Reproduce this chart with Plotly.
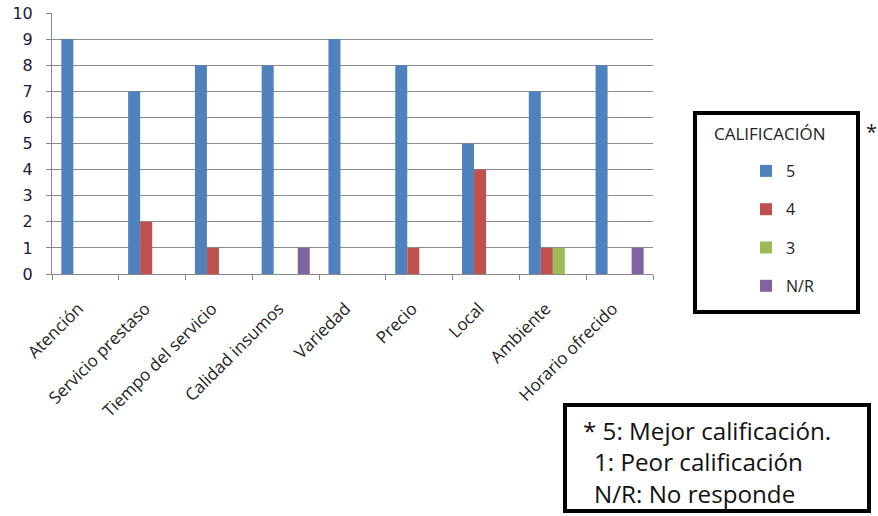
import plotly.graph_objects as go

categories = ["Atención", "Servicio prestaso", "Tiempo del servicio", "Calidad insumos",
              "Variedad", "Precio", "Local", "Ambiente", "Horario ofrecido"]
series_names = ["5", "4", "3", "N/R"]
vals_5 = [9, 7, 8, 8, 9, 8, 5, 7, 8]
vals_4 = [0, 2, 1, 0, 0, 1, 4, 1, 0]
vals_3 = [0, 0, 0, 0, 0, 0, 0, 1, 0]
vals_nr = [0, 0, 0, 1, 0, 0, 0, 0, 1]
colors = ["#4F81BD", "#C0504D", "#9BBB59", "#8064A2"]

W, H = 878, 516
L, R, T, B = 52, 653, 13, 274


def px(x):
    return (x - L) / (R - L)


def py(y):
    return (B - y) / (B - T)


fig = go.Figure()
for name, vals, col in zip(series_names, [vals_5, vals_4, vals_3, vals_nr], colors):
    fig.add_trace(go.Bar(x=categories, y=vals, name=name, marker=dict(color=col, line=dict(width=0)),
                         legendgroup=name))

font_main = "Open Sans, Noto Sans, sans-serif"
txt = "#222222"

fig.update_layout(
    template="none",
    width=W, height=H,
    margin=dict(l=L, r=W - R, t=T, b=H - B, pad=0, autoexpand=False),
    paper_bgcolor="white", plot_bgcolor="white",
    barmode="group", bargap=0.28, bargroupgap=0,
    font=dict(family=font_main, color=txt),
    legend=dict(
        x=px(746), y=py(154), xanchor="left", yanchor="top",
        xref="paper", yref="paper",
        font=dict(size=16, family=font_main, color=txt),
        tracegroupgap=14.5, bgcolor="rgba(0,0,0,0)", borderwidth=0,
        traceorder="grouped",
    ),
    xaxis=dict(
        type="category", tickson="boundaries", ticks="outside", ticklen=5,
        tickcolor="#888888", showline=True, linecolor="#888888", linewidth=1,
        showgrid=False, tickangle=-45, automargin=False, ticklabelstandoff=17,
        ticklabelshift=-7,
        tickfont=dict(size=17, color=txt, family=font_main),
    ),
    yaxis=dict(
        range=[0, 10], dtick=1, ticks="outside", ticklen=5, tickcolor="#888888",
        showline=True, linecolor="#888888", linewidth=1, automargin=False,
        showgrid=True, gridcolor="#8c8c8c", gridwidth=1, ticklabelstandoff=10,
        tickfont=dict(size=16, color="#1a1a3a", family="DejaVu Sans"), zeroline=False,
    ),
    shapes=[
        dict(type="rect", xref="paper", yref="paper", x0=px(695), x1=px(858), y0=py(113), y1=py(312),
             line=dict(color="black", width=4), fillcolor="rgba(0,0,0,0)"),
        dict(type="rect", xref="paper", yref="paper", x0=px(565), x1=px(869), y0=py(405), y1=py(511),
             line=dict(color="black", width=4), fillcolor="rgba(0,0,0,0)"),
    ],
    annotations=[
        dict(text="CALIFICACIÓN", xref="paper", yref="paper", x=px(770), y=py(133),
             xanchor="center", yanchor="middle", showarrow=False,
             font=dict(size=17, family=font_main, color=txt)),
        dict(text="*", xref="paper", yref="paper", x=px(872), y=py(131),
             xanchor="center", yanchor="middle", showarrow=False,
             font=dict(size=20, family=font_main, color=txt)),
        dict(text="* 5: Mejor calificación.", xref="paper", yref="paper", x=px(581), y=py(430),
             xanchor="left", yanchor="middle", showarrow=False,
             font=dict(size=24.2, family=font_main, color="#111111")),
        dict(text="1: Peor calificación", xref="paper", yref="paper", x=px(592), y=py(462),
             xanchor="left", yanchor="middle", showarrow=False,
             font=dict(size=24.2, family=font_main, color="#111111")),
        dict(text="N/R: No responde", xref="paper", yref="paper", x=px(592), y=py(493),
             xanchor="left", yanchor="middle", showarrow=False,
             font=dict(size=24.2, family=font_main, color="#111111")),
    ],
)

fig.write_html("out.html")
